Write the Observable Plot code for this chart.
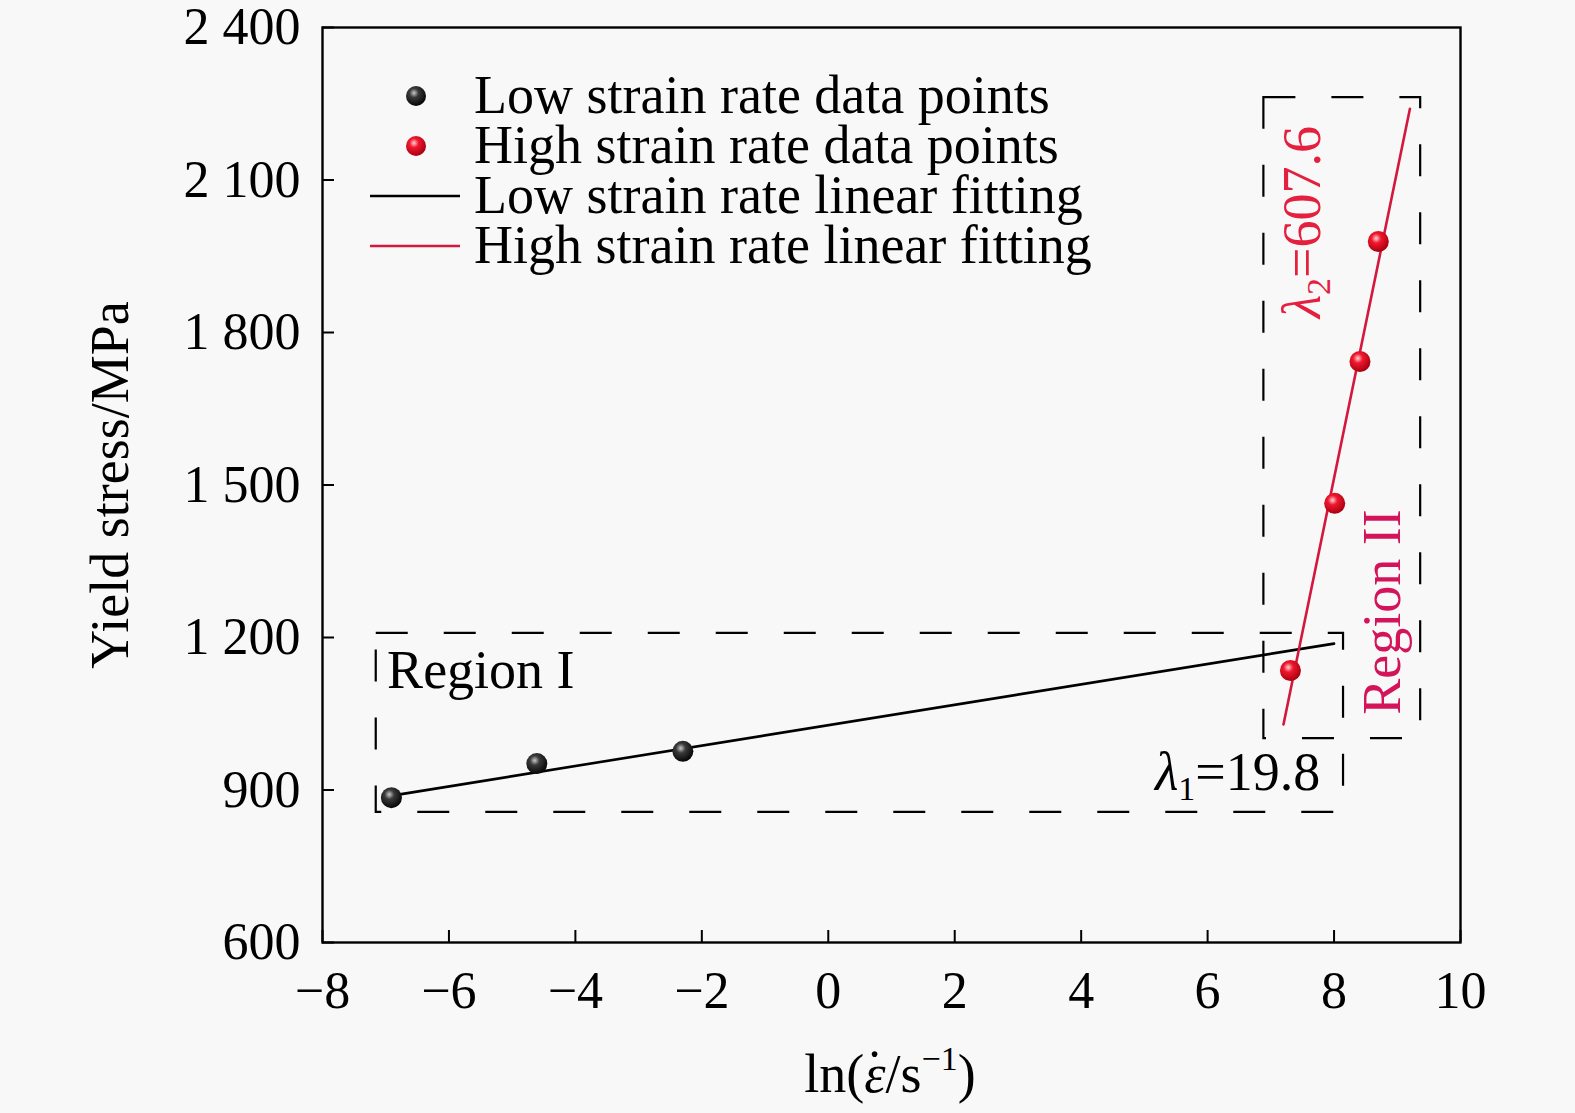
<!DOCTYPE html>
<html>
<head>
<meta charset="utf-8">
<script src="https://cdn.jsdelivr.net/npm/d3@7"></script>
<script src="https://cdn.jsdelivr.net/npm/@observablehq/plot@0.6"></script>
<style>
  html, body { margin: 0; padding: 0; background: #f8f8f8; }
  svg { display: block; }
</style>
</head>
<body>
<div id="chart"></div>
<script>
// ---- data ----
const lowX = [-6.91, -4.61, -2.30];
const lowY = [885, 952, 976];
const highX = [7.31, 8.01, 8.41, 8.70];
const highY = [1135, 1464, 1743, 1979];
const lowFitX = [-6.9, 8.0];
const lowFitY = [889, 1188];
const highFitX = [7.2, 9.2];
const highFitY = [1029, 2240];
const regionNames = ["Region I", "Region II"];
const regionX1 = [-7.15, 6.89];
const regionX2 = [8.15, 9.37];
const regionY1 = [856, 1001];
const regionY2 = [1208, 2262];
const xTicks = [-8, -6, -4, -2, 0, 2, 4, 6, 8, 10];
const yTicks = [600, 900, 1200, 1500, 1800, 2100, 2400];
const legendLabels = [
  "Low strain rate data points",
  "High strain rate data points",
  "Low strain rate linear fitting",
  "High strain rate linear fitting"
];
const lambda1 = "19.8";
const lambda2 = "607.6";

const lowPts = lowX.map((x, i) => ({x, y: lowY[i]}));
const highPts = highX.map((x, i) => ({x, y: highY[i]}));
const lowFit = lowFitX.map((x, i) => ({x, y: lowFitY[i]}));
const highFit = highFitX.map((x, i) => ({x, y: highFitY[i]}));
const regions = regionNames.map((name, i) => ({name, x1: regionX1[i], x2: regionX2[i], y1: regionY1[i], y2: regionY2[i]}));

const W = 1575, H = 1113;
const mL = 322, mR = 115, mT = 27, mB = 171;
const plotW = W - mL - mR, plotH = H - mT - mB;

const fmtX = d => (d < 0 ? "\u2212" + Math.abs(d) : String(d));
const fmtY = d => (d >= 1000 ? String(d).replace(/(\d)(\d{3})$/, "$1 $2") : String(d));

const RED_LINE = "#d3173f";

const svgEl = Plot.plot({
  width: W, height: H,
  marginLeft: mL, marginRight: mR, marginTop: mT, marginBottom: mB,
  style: {background: "#f8f8f8", fontFamily: "'Liberation Serif', 'Times New Roman', serif", fontSize: "52px", color: "black", overflow: "visible"},
  x: {domain: [-8, 10]},
  y: {domain: [600, 2400]},
  marks: [
    Plot.rect(regions, {x1: "x1", x2: "x2", y1: "y1", y2: "y2", fill: "none", stroke: "black", strokeWidth: 2.2, strokeDasharray: "32,36"}),
    Plot.line(lowFit, {x: "x", y: "y", stroke: "black", strokeWidth: 2.6}),
    Plot.line(highFit, {x: "x", y: "y", stroke: RED_LINE, strokeWidth: 2.6}),
    Plot.dot(lowPts, {x: "x", y: "y", r: 10.5, fill: "url(#gBlack)", stroke: "none"}),
    Plot.dot(highPts, {x: "x", y: "y", r: 10.5, fill: "url(#gRed)", stroke: "none"}),
    Plot.tickX(xTicks, {x: d => d, insetTop: plotH - 12, stroke: "black", strokeWidth: 2}),
    Plot.tickY(yTicks, {y: d => d, insetRight: plotW - 12, stroke: "black", strokeWidth: 2}),
    Plot.axisX({ticks: xTicks, tickSize: 0, tickPadding: 29, tickFormat: fmtX, label: null}),
    Plot.axisY({ticks: yTicks, tickSize: 0, tickPadding: 22, tickFormat: fmtY, label: null}),
    Plot.frame({stroke: "black", strokeWidth: 2.4})
  ]
});

document.getElementById("chart").appendChild(svgEl);
const svg = d3.select(svgEl);
const sx = svgEl.scale("x"), sy = svgEl.scale("y");
const X = v => sx.apply(v), Y = v => sy.apply(v);

// gradients for spherical markers
const defs = svg.insert("defs", ":first-child");
const gb = defs.append("radialGradient").attr("id", "gBlack").attr("cx", "40%").attr("cy", "35%").attr("r", "65%");
gb.append("stop").attr("offset", "0%").attr("stop-color", "#c8c8c8");
gb.append("stop").attr("offset", "35%").attr("stop-color", "#3a3a3a");
gb.append("stop").attr("offset", "100%").attr("stop-color", "#050505");
const gr = defs.append("radialGradient").attr("id", "gRed").attr("cx", "40%").attr("cy", "35%").attr("r", "65%");
gr.append("stop").attr("offset", "0%").attr("stop-color", "#ffd0d4");
gr.append("stop").attr("offset", "35%").attr("stop-color", "#f0182e");
gr.append("stop").attr("offset", "100%").attr("stop-color", "#a8000f");

const FONT = "'Liberation Serif', 'Times New Roman', serif";
const g = svg.append("g").attr("font-family", FONT).attr("font-size", 54).attr("text-anchor", "start").attr("fill", "black");

// legend
const legX = 416, legTextX = 474, legY0 = 96, legStep = 50;
g.append("circle").attr("cx", legX).attr("cy", legY0).attr("r", 10).attr("fill", "url(#gBlack)");
g.append("circle").attr("cx", legX).attr("cy", legY0 + legStep).attr("r", 10).attr("fill", "url(#gRed)");
g.append("line").attr("x1", 370).attr("x2", 460).attr("y1", legY0 + 2 * legStep).attr("y2", legY0 + 2 * legStep).attr("stroke", "black").attr("stroke-width", 2.4);
g.append("line").attr("x1", 370).attr("x2", 460).attr("y1", legY0 + 3 * legStep).attr("y2", legY0 + 3 * legStep).attr("stroke", RED_LINE).attr("stroke-width", 2.4);
legendLabels.forEach((t, i) => {
  g.append("text").attr("x", legTextX).attr("y", legY0 + i * legStep + 17).attr("text-anchor", "start").text(t);
});

// Region I label
g.append("text").attr("x", X(-6.97)).attr("y", Y(1100)).attr("text-anchor", "start").text(regionNames[0]);

// lambda1 label
const t1 = g.append("text").attr("x", X(7.79)).attr("y", Y(899)).attr("text-anchor", "end");
t1.append("tspan").attr("font-style", "italic").text("\u03bb");
t1.append("tspan").attr("font-size", 34).attr("dy", 10).text("1");
t1.append("tspan").attr("dy", -10).text("=" + lambda1);

// lambda2 label (rotated)
const t2 = g.append("text").attr("transform", `translate(${X(7.79)},${Y(2016)}) rotate(-90)`).attr("text-anchor", "middle").attr("fill", "#e4203e");
t2.append("tspan").attr("font-style", "italic").text("\u03bb");
t2.append("tspan").attr("font-size", 34).attr("dy", 10).text("2");
t2.append("tspan").attr("dy", -10).text("=" + lambda2);

// Region II label (rotated)
g.append("text").attr("transform", `translate(${X(9.05)},${Y(1249)}) rotate(-90)`).attr("text-anchor", "middle").attr("fill", "#d4145a").text(regionNames[1]);

// axis titles
const xl = g.append("text").attr("x", 890).attr("y", 1092).attr("text-anchor", "middle");
xl.append("tspan").text("ln(");
xl.append("tspan").attr("font-style", "italic").text("\u03b5");
xl.append("tspan").attr("dx", -20).attr("dy", -4).text("\u02d9");
xl.append("tspan").attr("dx", 2).attr("dy", 4).text("/s");
xl.append("tspan").attr("font-size", 34).attr("dy", -22).text("\u22121");
xl.append("tspan").attr("dy", 22).text(")");

g.append("text").attr("transform", "translate(128,485) rotate(-90)").attr("text-anchor", "middle").text("Yield stress/MPa");
</script>
</body>
</html>
